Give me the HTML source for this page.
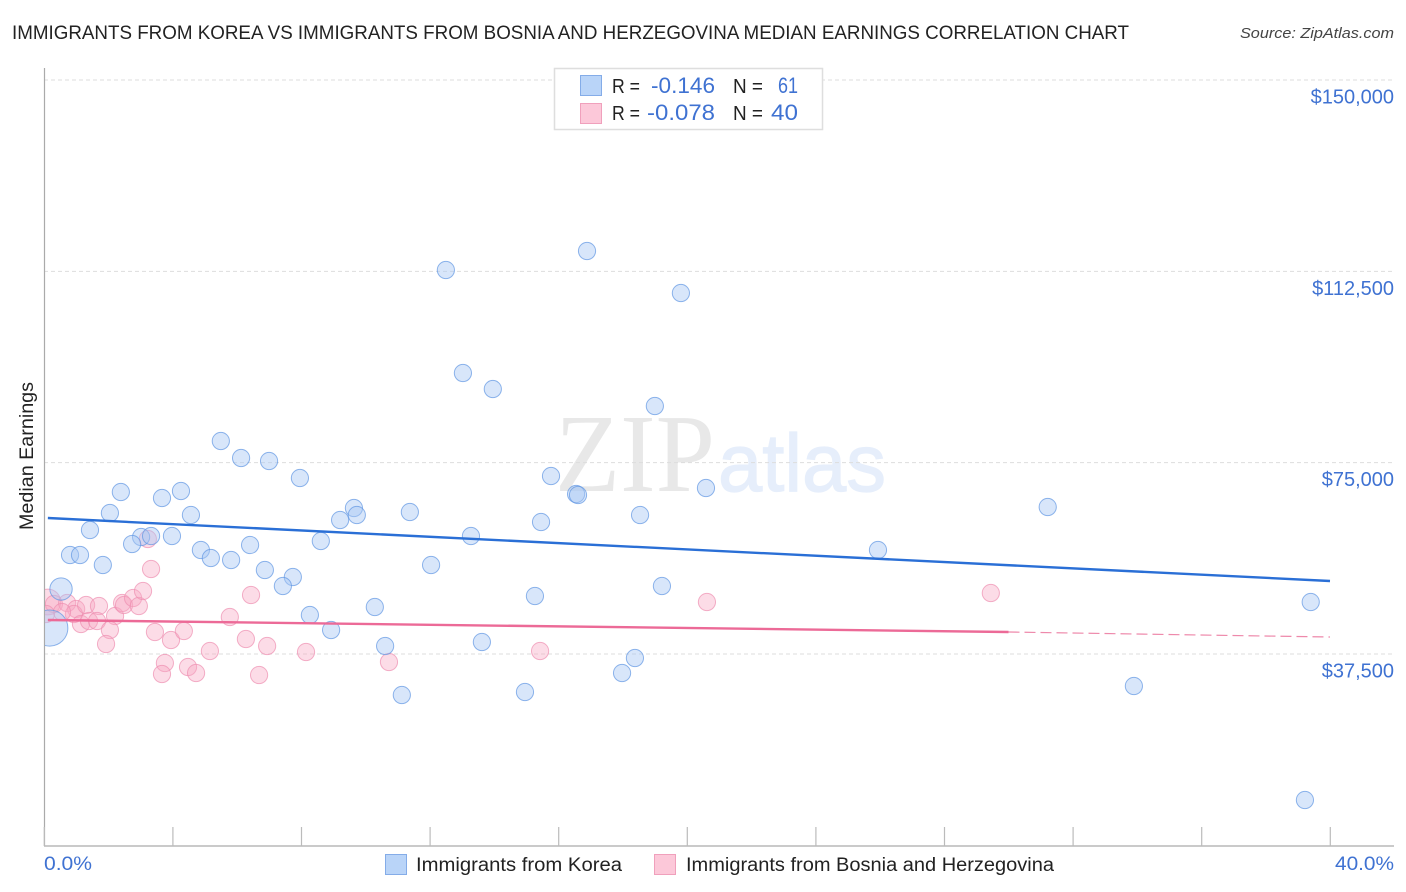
<!DOCTYPE html>
<html lang="en">
<head>
<meta charset="utf-8">
<title>Immigrants from Korea vs Immigrants from Bosnia and Herzegovina Median Earnings Correlation Chart</title>
<style>
html,body{margin:0;padding:0;background:#fff;width:1406px;height:892px;overflow:hidden}
svg{display:block}
text{font-family:"Liberation Sans",sans-serif}
</style>
</head>
<body>
<svg id="chart" width="1406" height="892" viewBox="0 0 1406 892" xmlns="http://www.w3.org/2000/svg">
  <defs><clipPath id="plot-clip"><rect x="45" y="60" width="1349" height="786"/></clipPath></defs>
  <text x="12" y="39" font-size="19" fill="#222" textLength="1117" lengthAdjust="spacingAndGlyphs">IMMIGRANTS FROM KOREA VS IMMIGRANTS FROM BOSNIA AND HERZEGOVINA MEDIAN EARNINGS CORRELATION CHART</text>
  <text x="1394" y="38" font-size="15" font-style="italic" fill="#444" text-anchor="end" textLength="154" lengthAdjust="spacingAndGlyphs">Source: ZipAtlas.com</text>

  <g>
    <text x="555" y="491" font-size="111" fill="#e8e8e8" style="font-family:'Liberation Serif',serif" textLength="160" lengthAdjust="spacingAndGlyphs">ZIP</text>
    <text x="718" y="491" font-size="82" fill="#e6eefb" stroke="#e6eefb" stroke-width="1.2" textLength="168" lengthAdjust="spacingAndGlyphs">atlas</text>
  </g>

  <g id="grid"></g>
  <g id="axes"></g>
  <g id="pink-points" clip-path="url(#plot-clip)"></g>
  <g id="blue-points" clip-path="url(#plot-clip)"></g>
  <g id="trends"></g>
  <g id="ylabels"></g>

  <text transform="translate(33,456) rotate(-90)" font-size="19" fill="#222" text-anchor="middle" textLength="148" lengthAdjust="spacingAndGlyphs">Median Earnings</text>
  <text x="44" y="870" font-size="19" fill="#3f72d2" textLength="48" lengthAdjust="spacingAndGlyphs">0.0%</text>
  <text x="1394" y="870" font-size="19" fill="#3f72d2" text-anchor="end" textLength="59" lengthAdjust="spacingAndGlyphs">40.0%</text>

  <g>
    <rect x="554.5" y="68.5" width="268" height="61" fill="#fff" stroke="#dedede" stroke-width="1.5"/>
    <rect x="580.5" y="75.5" width="21" height="20" fill="#b9d4f8" stroke="#84ace8" stroke-width="1"/>
    <rect x="580.5" y="103.5" width="21" height="20" fill="#fcc8d9" stroke="#f0a0bc" stroke-width="1"/>
    <text x="612" y="93" font-size="20" fill="#222" textLength="28" lengthAdjust="spacingAndGlyphs">R =</text>
    <text x="715" y="93" font-size="22" fill="#3f72d2" text-anchor="end" textLength="64" lengthAdjust="spacingAndGlyphs">-0.146</text>
    <text x="733" y="93" font-size="20" fill="#222" textLength="30" lengthAdjust="spacingAndGlyphs">N =</text>
    <text x="798" y="93" font-size="22" fill="#3f72d2" text-anchor="end" textLength="20" lengthAdjust="spacingAndGlyphs">61</text>
    <text x="612" y="120" font-size="20" fill="#222" textLength="28" lengthAdjust="spacingAndGlyphs">R =</text>
    <text x="715" y="120" font-size="22" fill="#3f72d2" text-anchor="end" textLength="68" lengthAdjust="spacingAndGlyphs">-0.078</text>
    <text x="733" y="120" font-size="20" fill="#222" textLength="30" lengthAdjust="spacingAndGlyphs">N =</text>
    <text x="798" y="120" font-size="22" fill="#3f72d2" text-anchor="end" textLength="27" lengthAdjust="spacingAndGlyphs">40</text>
  </g>

  <g>
    <rect x="385.5" y="854.5" width="21" height="20" fill="#b9d4f8" stroke="#84ace8" stroke-width="1"/>
    <text x="416" y="871" font-size="19" fill="#222" textLength="206" lengthAdjust="spacingAndGlyphs">Immigrants from Korea</text>
    <rect x="654.5" y="854.5" width="21" height="20" fill="#fcc8d9" stroke="#f0a0bc" stroke-width="1"/>
    <text x="686" y="871" font-size="19" fill="#222" textLength="368" lengthAdjust="spacingAndGlyphs">Immigrants from Bosnia and Herzegovina</text>
  </g>
</svg>
<script>
const yTicks = [150000, 112500, 75000, 37500];
const yTickLabels = ['$150,000', '$112,500', '$75,000', '$37,500'];
const xTicks = [0, 4, 8, 12, 16, 20, 24, 28, 32, 36, 40];

const koreaX = [12.50,16.89,19.81,13.03,13.96,19.00,5.50,6.13,7.00,7.96,2.39,4.26,3.67,2.05,4.57,1.43,3.02,3.33,2.74,3.98,4.88,5.19,5.82,6.41,0.81,1.12,1.83,6.87,7.74,7.43,0.53,0.18,8.27,8.93,8.61,9.21,9.64,9.73,11.38,10.29,12.04,13.28,15.77,15.46,16.55,16.61,18.54,20.59,25.94,31.22,19.22,15.27,10.61,13.62,11.13,14.96,17.98,18.38,33.90,39.40,39.22];
const koreaY = [112760,116484,108252,92572,89436,86104,79244,75912,75324,71992,69248,69444,68072,65132,64740,61800,60428,60624,59056,60624,57880,56312,55920,58860,56900,56900,54940,53960,52588,50824,50236,42592,45140,42200,59644,63760,66112,64740,65328,46708,54940,60624,72384,63368,68856,68660,64740,70032,57880,66308,50824,48864,39064,39848,29460,30048,33772,36712,31224,47688,8880];
const koreaWeight = [1,1,1,1,1,1,1,1,1,1,1,1,1,1,1,1,1,1,1,1,1,1,1,1,1,1,1,1,1,1,1.3,2.1,1,1,1,1,1,1,1,1,1,1,1,1,1,1,1,1,1,1,1,1,1,1,1,1,1,1,1,1,1];

const bosniaX = [0.12,0.31,0.72,1.00,0.93,1.31,1.71,1.15,1.40,1.65,2.21,2.05,1.93,2.43,2.49,2.77,2.95,3.08,3.33,3.23,3.45,3.95,4.35,3.76,3.67,4.48,4.73,5.16,5.78,6.28,6.44,6.94,6.69,8.15,10.73,15.43,20.62,29.45,0.56,0.06];
const bosniaY = [47688,47296,47492,46316,45336,47100,46904,43376,43964,43964,44944,42200,39456,47492,47100,48472,46904,49844,54156,60036,41808,40240,42004,35732,33576,34948,33772,38084,44748,40436,49060,39064,33380,37888,35928,38084,47688,49452,45728,45336];
const bosniaWeight = [1.5,1,1,1,1,1,1,1,1,1,1,1,1,1,1,1,1,1,1,1,1,1,1,1,1,1,1,1,1,1,1,1,1,1,1,1,1,1,1,1];

const koreaTrendX = [0.12, 40];
const koreaTrendY = [64152, 51804];
const bosniaTrendX = [0.12, 30];
const bosniaTrendY = [44160, 41808];
const bosniaDashX = [30, 40];
const bosniaDashY = [41808, 40828];

const NS = 'http://www.w3.org/2000/svg';
function sx(v) { return 44 + v * 32.15; }
function sy(v) { return 80 + (150000 - v) / 37500 * 191.33; }
function make(parent, tag, attrs) {
  const el = document.createElementNS(NS, tag);
  for (const k in attrs) el.setAttribute(k, attrs[k]);
  parent.appendChild(el);
  return el;
}

const grid = document.getElementById('grid');
yTicks.forEach(function (t) {
  const l = make(grid, 'line', {x1: 44, x2: 1394, y1: sy(t), y2: sy(t), stroke: '#dddddd', 'stroke-width': 1, 'stroke-dasharray': '4 3'});
  
  
});

const axes = document.getElementById('axes');
const yAxis = make(axes, 'line', {x1: 44.5, x2: 44.5, y1: 68, y2: 846, stroke: '#aaaaaa', 'stroke-width': 1.2});


const xAxis = make(axes, 'line', {x1: 44, x2: 1394, y1: 846, y2: 846, stroke: '#aaaaaa', 'stroke-width': 1.2});


xTicks.forEach(function (t) {
  const l = make(axes, 'line', {x1: sx(t) + 0.3, x2: sx(t) + 0.3, y1: 827, y2: 846, stroke: '#bbbbbb', 'stroke-width': 1.2});
  
  
});

const ylabels = document.getElementById('ylabels');
yTicks.forEach(function (t, i) {
  const el = make(ylabels, 'text', {x: 1394, y: sy(t) + 23.5, 'font-size': 20, fill: '#3f72d2', 'text-anchor': 'end'});
  el.textContent = yTickLabels[i];
  
  
});

function drawPoints(groupId, xs, ys, weights, fill, stroke, fillOpacity) {
  const g = document.getElementById(groupId);
  xs.forEach(function (x, i) {
    const c = make(g, 'circle', {cx: sx(x), cy: sy(ys[i]), r: 8.6 * weights[i], fill: fill, 'fill-opacity': fillOpacity, stroke: stroke, 'stroke-opacity': 0.7, 'stroke-width': 1});
    
    
  });
}
drawPoints('pink-points', bosniaX, bosniaY, bosniaWeight, '#f8a8c4', '#ee8fb0', 0.4);
drawPoints('blue-points', koreaX, koreaY, koreaWeight, '#a8c8f5', '#5f95e2', 0.45);

const trends = document.getElementById('trends');
const t1 = make(trends, 'line', {x1: sx(koreaTrendX[0]), y1: sy(koreaTrendY[0]), x2: sx(koreaTrendX[1]), y2: sy(koreaTrendY[1]), stroke: '#2a6fd6', 'stroke-width': 2.4});


const t2 = make(trends, 'line', {x1: sx(bosniaTrendX[0]), y1: sy(bosniaTrendY[0]), x2: sx(bosniaTrendX[1]), y2: sy(bosniaTrendY[1]), stroke: '#ec6a97', 'stroke-width': 2.4});


const t3 = make(trends, 'line', {x1: sx(bosniaDashX[0]), y1: sy(bosniaDashY[0]), x2: sx(bosniaDashX[1]), y2: sy(bosniaDashY[1]), stroke: '#ee89ab', 'stroke-width': 1.2, 'stroke-dasharray': '11 5'});


</script>
</body>
</html>
